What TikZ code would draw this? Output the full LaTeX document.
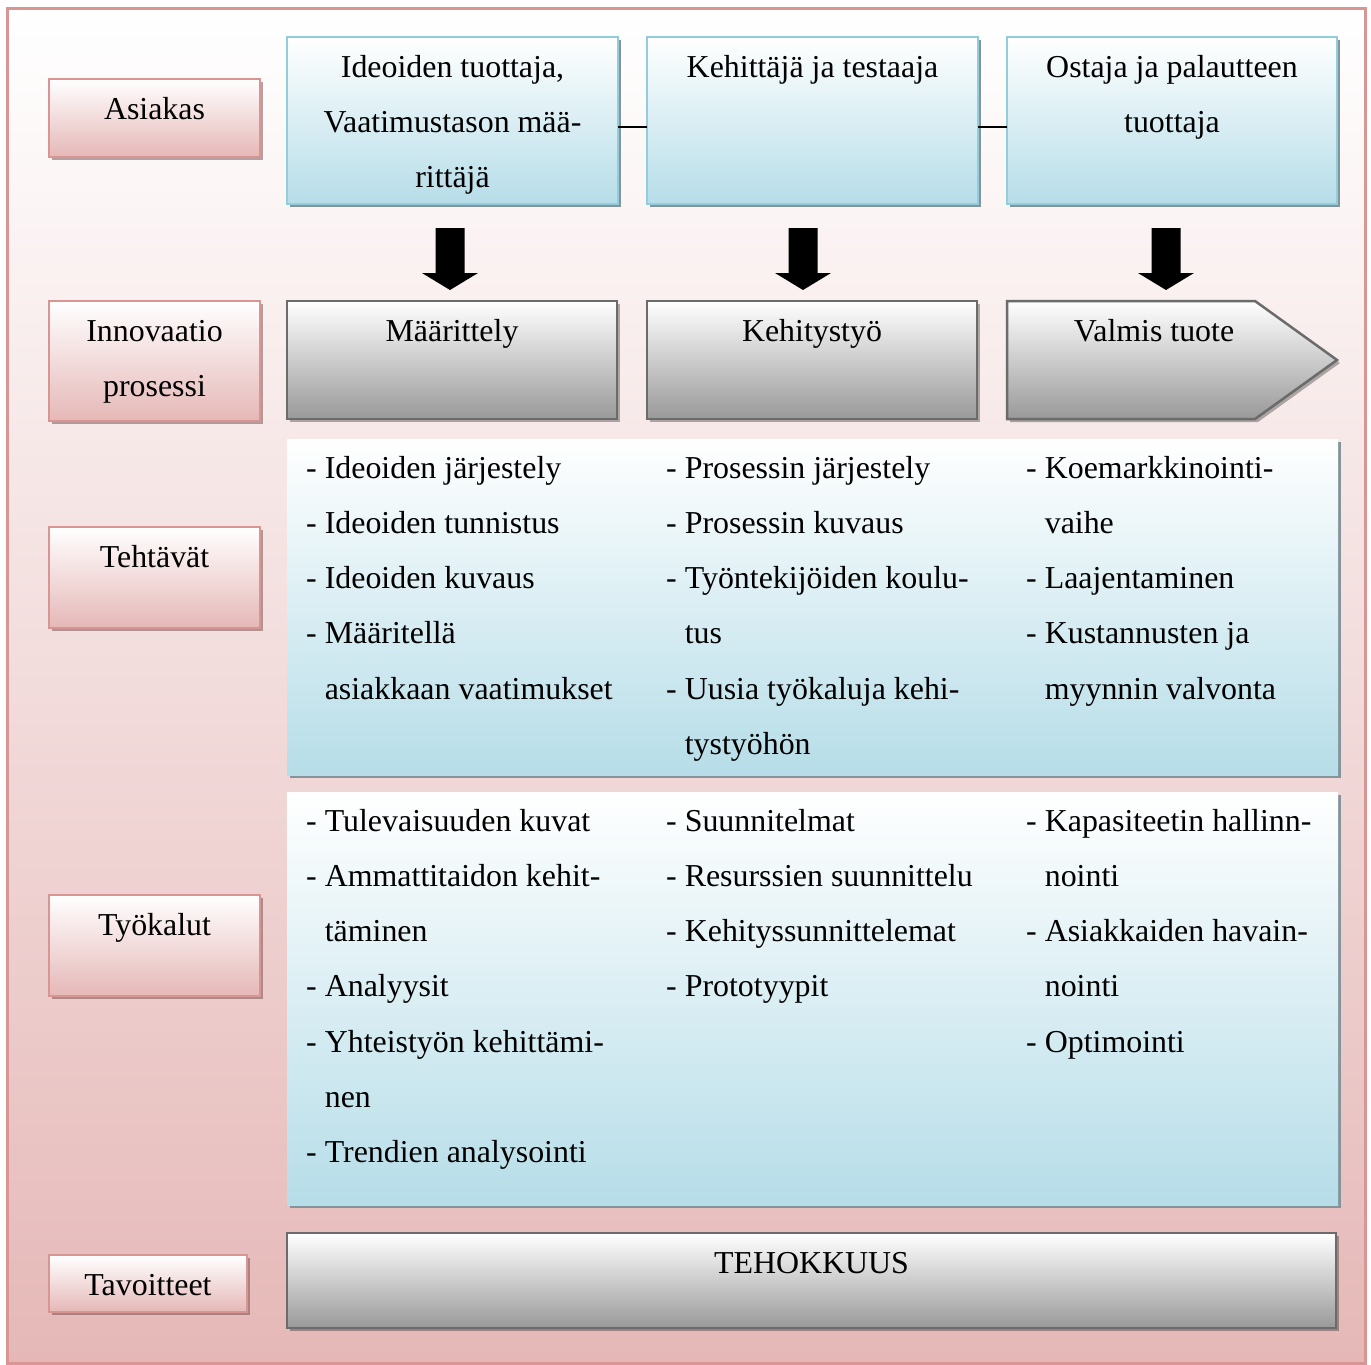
\documentclass[tikz,border=0pt]{standalone}
\usepackage{fontspec}
\setmainfont{Liberation Serif}
\usetikzlibrary{shadows}

\definecolor{framepink}{HTML}{D99594}
\definecolor{fillpink}{HTML}{E5B8B7}
\definecolor{edgeblue}{HTML}{92CDDC}
\definecolor{fillblue}{HTML}{B6DDE8}
\definecolor{edgegray}{HTML}{6B6B6B}
\definecolor{fillgray}{HTML}{999999}
\definecolor{shadeblue}{HTML}{85949B}
\definecolor{shadepink}{HTML}{6E4A4A}
\newcommand{\bodyfont}{\fontsize{31.9}{55.2}\selectfont}

\begin{document}
\begin{tikzpicture}[x=1pt,y=-1pt,
  box/.style={rectangle, inner sep=0pt, outer sep=0pt},
  labelbox/.style={box, draw=framepink, line width=2.5pt, top color=white, bottom color=fillpink,
    drop shadow={shadow xshift=3pt, shadow yshift=-3pt, fill=shadepink, opacity=0.5}},
  rolebox/.style={box, draw=edgeblue, line width=2pt, top color=white, bottom color=fillblue,
    drop shadow={shadow xshift=3pt, shadow yshift=-3pt, fill=shadeblue, opacity=1}},
  procbox/.style={box, draw=edgegray, line width=2.5pt, top color=white, bottom color=fillgray,
    drop shadow={shadow xshift=3pt, shadow yshift=-3pt, fill=black, opacity=0.3}},
  panel/.style={box, top color=white, bottom color=fillblue,
    drop shadow={shadow xshift=3pt, shadow yshift=-3pt, fill=shadeblue, opacity=1}},
  txt/.style={anchor=north, inner sep=0pt, align=center, font=\bodyfont},
  lst/.style={anchor=north west, inner sep=0pt, align=left, font=\bodyfont},
  blockarrow/.style={fill=black}
]
\useasboundingbox (0,0) rectangle (1371,1365);

% outer frame
\node[box, draw=framepink, line width=3pt, top color=white, bottom color=fillpink,
  minimum width=1358pt, minimum height=1355pt] (frame) at (686,685.5) {};

% row labels
\node[labelbox, minimum width=211pt, minimum height=78pt]  (asiakas)    at (154.5,118) {};
\node[labelbox, minimum width=211pt, minimum height=120pt] (innovaatio) at (154.5,361) {};
\node[labelbox, minimum width=211pt, minimum height=101pt] (tehtavat)   at (154.5,577.5) {};
\node[labelbox, minimum width=211pt, minimum height=101pt] (tyokalut)   at (154.5,945.5) {};
\node[labelbox, minimum width=198pt, minimum height=57pt]  (tavoitteet) at (148,1283.5) {};

\node[txt] (l1) at ([yshift=-1.5pt]asiakas.north)    {\strut Asiakas};
\node[txt] (l2) at ([yshift=-1.5pt]innovaatio.north) {\strut Innovaatio\\prosessi};
\node[txt] (l3) at ([yshift=-1.5pt]tehtavat.north)   {\strut Tehtävät};
\node[txt] (l4) at ([yshift=-1.5pt]tyokalut.north)   {\strut Työkalut};
\node[txt] (l5) at ([yshift=-1.5pt]tavoitteet.north) {\strut Tavoitteet};

% customer roles
\node[rolebox, minimum width=331pt, minimum height=167pt] (r1) at (452.5,120.5) {};
\node[rolebox, minimum width=331pt, minimum height=167pt] (r2) at (812.5,120.5) {};
\node[rolebox, minimum width=330pt, minimum height=167pt] (r3) at (1172,120.5) {};

\node[txt] (rt1) at ([yshift=-1.5pt]r1.north) {\strut Ideoiden tuottaja,\\Vaatimustason mää-\\rittäjä};
\node[txt] (rt2) at ([yshift=-1.5pt]r2.north) {\strut Kehittäjä ja testaaja};
\node[txt] (rt3) at ([yshift=-1.5pt]r3.north) {\strut Ostaja ja palautteen\\tuottaja};

\draw[line width=1.5pt] ([yshift=-6.5pt]r1.east) -- ([yshift=-6.5pt]r2.west);
\draw[line width=1.5pt] ([yshift=-6.5pt]r2.east) -- ([yshift=-6.5pt]r3.west);

% downward block arrows
\foreach \cx in {450,803,1166}
  \fill[blockarrow] (\cx-14.5,228) -- (\cx+14.5,228) -- (\cx+14.5,273) -- (\cx+28,273)
    -- (\cx,290) -- (\cx-28,273) -- (\cx-14.5,273) -- cycle;

% process steps
\node[procbox, minimum width=330pt, minimum height=118pt] (p1) at (452,360) {};
\node[procbox, minimum width=330pt, minimum height=118pt] (p2) at (812,360) {};
\path[procbox] (1007,301) -- (1255,301) -- (1337,360) -- (1255,419) -- (1007,419) -- cycle;
\coordinate (p3) at (1154,301);

\node[txt] (pt1) at ([yshift=-1.5pt]p1.north) {\strut Määrittely};
\node[txt] (pt2) at ([yshift=-1.5pt]p2.north) {\strut Kehitystyö};
\node[txt] (pt3) at ([yshift=-1.5pt]p3)       {\strut Valmis tuote};

% tasks
\node[panel, minimum width=1051pt, minimum height=336pt] (tasks) at (812.5,607) {};
\node[lst] (ta1) at ([xshift=19pt,yshift=-0.5pt]tasks.north west)
  {\strut- Ideoiden järjestely\\- Ideoiden tunnistus\\- Ideoiden kuvaus\\- Määritellä\\\hphantom{-\ }asiakkaan vaatimukset};
\node[lst] (ta2) at ([xshift=379pt,yshift=-0.5pt]tasks.north west)
  {\strut- Prosessin järjestely\\- Prosessin kuvaus\\- Työntekijöiden koulu-\\\hphantom{-\ }tus\\- Uusia työkaluja kehi-\\\hphantom{-\ }tystyöhön};
\node[lst] (ta3) at ([xshift=739pt,yshift=-0.5pt]tasks.north west)
  {\strut- Koemarkkinointi-\\\hphantom{-\ }vaihe\\- Laajentaminen\\- Kustannusten ja\\\hphantom{-\ }myynnin valvonta};

% tools
\node[panel, minimum width=1051pt, minimum height=413pt] (tools) at (812.5,998.5) {};
\node[lst] (to1) at ([xshift=19pt,yshift=-0.5pt]tools.north west)
  {\strut- Tulevaisuuden kuvat\\- Ammattitaidon kehit-\\\hphantom{-\ }täminen\\- Analyysit\\- Yhteistyön kehittämi-\\\hphantom{-\ }nen\\- Trendien analysointi};
\node[lst] (to2) at ([xshift=379pt,yshift=-0.5pt]tools.north west)
  {\strut- Suunnitelmat\\- Resurssien suunnittelu\\- Kehityssunnittelemat\\- Prototyypit};
\node[lst] (to3) at ([xshift=739pt,yshift=-0.5pt]tools.north west)
  {\strut- Kapasiteetin hallinn-\\\hphantom{-\ }nointi\\- Asiakkaiden havain-\\\hphantom{-\ }nointi\\- Optimointi};

% goal
\node[procbox, minimum width=1049pt, minimum height=95pt] (goal) at (811.5,1280.5) {};
\node[txt] (gt) at ([yshift=-1.5pt]goal.north) {\strut TEHOKKUUS};
\end{tikzpicture}
\end{document}
